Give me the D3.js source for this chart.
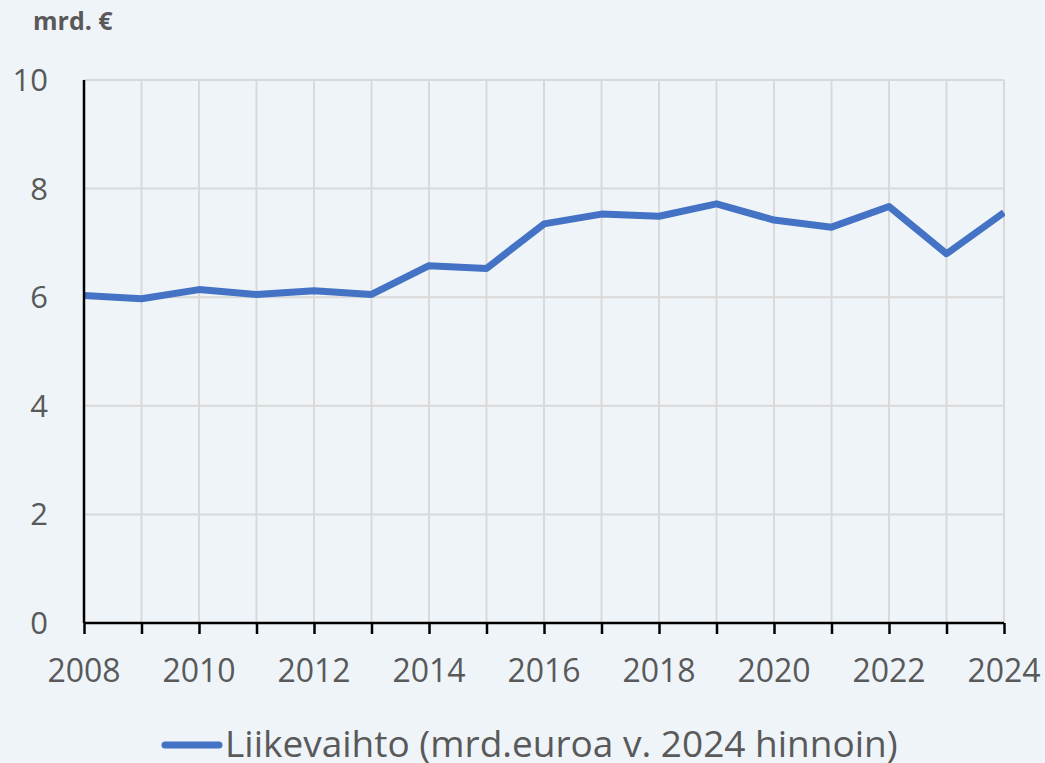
<!DOCTYPE html>
<html>
<head>
<meta charset="utf-8">
<script src="https://cdn.jsdelivr.net/npm/d3@7"></script>
<style>
  body { margin: 0; background: #eff4f9; }
  svg { display: block; font-family: "Open Sans", "Noto Sans", sans-serif; }
</style>
</head>
<body>
<div id="chart"></div>
<script>
// data
var years = [2008, 2009, 2010, 2011, 2012, 2013, 2014, 2015, 2016, 2017, 2018, 2019, 2020, 2021, 2022, 2023, 2024];
var liikevaihto = [6.03, 5.97, 6.14, 6.05, 6.12, 6.05, 6.58, 6.53, 7.35, 7.53, 7.49, 7.72, 7.42, 7.29, 7.67, 6.80, 7.56];
var yTicks = [0, 2, 4, 6, 8, 10];
var xLabels = [2008, 2010, 2012, 2014, 2016, 2018, 2020, 2022, 2024];
var seriesName = "Liikevaihto (mrd.euroa v. 2024 hinnoin)";
var unitLabel = "mrd. €";

var W = 1045, H = 763;
var margin = { left: 84, right: 41, top: 80, bottom: 140 };

var svg = d3.select("#chart").append("svg")
    .attr("width", W)
    .attr("height", H);

svg.append("rect").attr("width", W).attr("height", H).attr("fill", "#eff4f9");

var x = d3.scaleLinear().domain([2008, 2024]).range([margin.left, W - margin.right]);
var y = d3.scaleLinear().domain([0, 10]).range([H - margin.bottom, margin.top]);

// gridlines
svg.append("g").selectAll("line.h")
    .data(yTicks.filter(function(d) { return d > 0; }))
    .enter().append("line")
    .attr("x1", x(2008)).attr("x2", x(2024))
    .attr("y1", function(d) { return y(d); })
    .attr("y2", function(d) { return y(d); })
    .attr("stroke", "#d9d9d9").attr("stroke-width", 2);

svg.append("g").selectAll("line.v")
    .data(years.slice(1))
    .enter().append("line")
    .attr("x1", function(d) { return x(d); })
    .attr("x2", function(d) { return x(d); })
    .attr("y1", y(0)).attr("y2", y(10))
    .attr("stroke", "#d9d9d9").attr("stroke-width", 2);

// clip for the series
svg.append("clipPath").attr("id", "plotClip")
    .append("rect")
    .attr("x", x(2008)).attr("y", 0)
    .attr("width", x(2024) - x(2008) + 1).attr("height", H);

var line = d3.line()
    .x(function(d, i) { return x(years[i]); })
    .y(function(d) { return y(d); });

svg.append("path")
    .datum(liikevaihto)
    .attr("clip-path", "url(#plotClip)")
    .attr("fill", "none")
    .attr("stroke", "#4472c4")
    .attr("stroke-width", 7)
    .attr("stroke-linejoin", "round")
    .attr("d", line);

// axes
var xAxis = svg.append("g")
    .attr("transform", "translate(0," + y(0) + ")")
    .call(d3.axisBottom(x).tickValues(years).tickSize(11).tickFormat(""));
xAxis.select(".domain").attr("stroke", "#000").attr("stroke-width", 2.5).attr("d", "M" + x(2008) + ",0H" + x(2024));
xAxis.selectAll(".tick line").attr("stroke", "#000").attr("stroke-width", 2.5);

svg.append("line")
    .attr("x1", x(2008)).attr("x2", x(2008))
    .attr("y1", y(10)).attr("y2", y(0))
    .attr("stroke", "#000").attr("stroke-width", 2.5);

svg.append("g").selectAll("text")
    .data(xLabels)
    .enter().append("text")
    .attr("x", function(d) { return x(d); })
    .attr("y", 682)
    .attr("text-anchor", "middle")
    .attr("fill", "#595959")
    .attr("font-size", 32)
    .text(function(d) { return d; });

svg.append("g").selectAll("text")
    .data(yTicks)
    .enter().append("text")
    .attr("x", 48)
    .attr("y", function(d) { return y(d) + 11; })
    .attr("text-anchor", "end")
    .attr("fill", "#595959")
    .attr("font-size", 31)
    .text(function(d) { return d; });

svg.append("text")
    .attr("x", 33).attr("y", 30)
    .attr("fill", "#595959")
    .attr("font-size", 25)
    .attr("font-weight", "bold")
    .text(unitLabel);

// legend
var legend = svg.append("g").attr("transform", "translate(0,745)");
legend.append("line")
    .attr("x1", 165).attr("x2", 219)
    .attr("y1", 0).attr("y2", 0)
    .attr("stroke", "#4472c4").attr("stroke-width", 7)
    .attr("stroke-linecap", "round");
legend.append("text")
    .attr("x", 225).attr("y", 12)
    .attr("fill", "#595959")
    .attr("font-size", 37)
    .text(seriesName);
</script>
</body>
</html>
